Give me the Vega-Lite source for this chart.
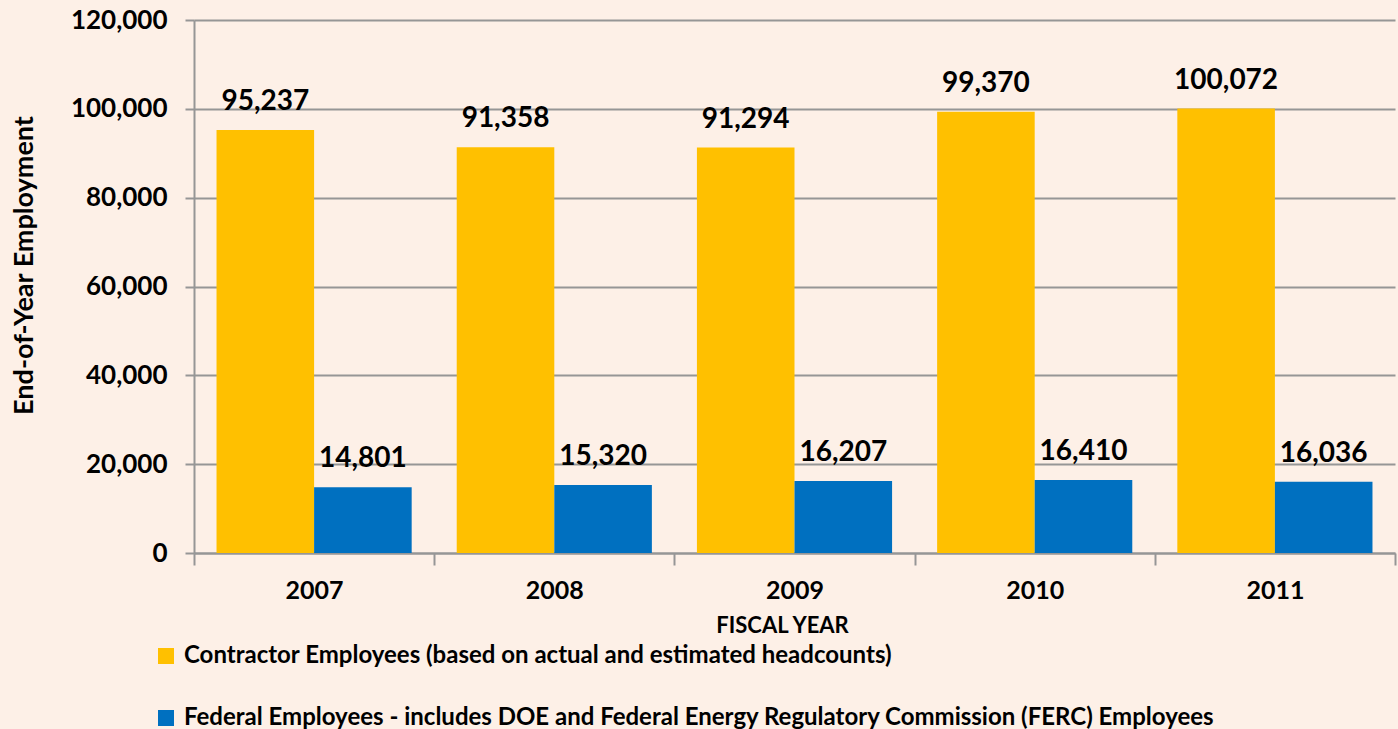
{
  "$schema": "https://vega.github.io/schema/vega-lite/v6.json",
  "autosize": {"type": "none"},
  "width": 1201,
  "height": 533,
  "padding": {"left": 194, "top": 20, "right": 3, "bottom": 176},
  "background": "#FDF0E7",
  "config": {
    "view": {"stroke": null},
    "font": "Lato",
    "axis": {"labelFont": "Lato", "titleFont": "Lato", "labelColor": "#000", "titleColor": "#000"}
  },
  "data": {
    "values": [
      {"year": "2007", "type": "Contractor Employees (based on actual and estimated headcounts)", "value": 95237},
      {"year": "2007", "type": "Federal Employees - includes DOE and Federal Energy Regulatory Commission (FERC) Employees", "value": 14801},
      {"year": "2008", "type": "Contractor Employees (based on actual and estimated headcounts)", "value": 91358},
      {"year": "2008", "type": "Federal Employees - includes DOE and Federal Energy Regulatory Commission (FERC) Employees", "value": 15320},
      {"year": "2009", "type": "Contractor Employees (based on actual and estimated headcounts)", "value": 91294},
      {"year": "2009", "type": "Federal Employees - includes DOE and Federal Energy Regulatory Commission (FERC) Employees", "value": 16207},
      {"year": "2010", "type": "Contractor Employees (based on actual and estimated headcounts)", "value": 99370},
      {"year": "2010", "type": "Federal Employees - includes DOE and Federal Energy Regulatory Commission (FERC) Employees", "value": 16410},
      {"year": "2011", "type": "Contractor Employees (based on actual and estimated headcounts)", "value": 100072},
      {"year": "2011", "type": "Federal Employees - includes DOE and Federal Energy Regulatory Commission (FERC) Employees", "value": 16036}
    ]
  },
  "encoding": {
    "x": {
      "field": "year", "type": "nominal",
      "scale": {"paddingInner": 0, "paddingOuter": 0},
      "axis": {
        "title": "FISCAL YEAR", "titleFontSize": 22, "titleFontWeight": "bold",
        "titleX": 588, "titleY": 62,
        "labelAngle": 0, "labelFontSize": 25, "labelFontWeight": "bold", "labelPadding": 13,
        "tickBand": "extent", "tickSize": 12, "tickColor": "#969696", "tickWidth": 2,
        "domainColor": "#969696", "domainWidth": 2, "grid": false
      }
    },
    "xOffset": {
      "field": "type", "type": "nominal",
      "scale": {"domain": ["Contractor Employees (based on actual and estimated headcounts)", "Federal Employees - includes DOE and Federal Energy Regulatory Commission (FERC) Employees"], "paddingInner": 0, "paddingOuter": 0.2308}
    },
    "y": {
      "field": "value", "type": "quantitative",
      "scale": {"domain": [0, 120000]},
      "axis": {
        "title": "End-of-Year Employment", "titleFontSize": 27, "titleFontWeight": "bold",
        "titleX": -170, "titleY": 245, "titleAngle": -90, "titleBaseline": "middle", "titleAlign": "center",
        "values": [0, 20000, 40000, 60000, 80000, 100000, 120000], "format": ",d",
        "labelFontSize": 26, "labelFontWeight": "bold", "labelPadding": 18,
        "tickSize": 9, "tickColor": "#969696", "tickWidth": 2,
        "domainColor": "#969696", "domainWidth": 2,
        "grid": true, "gridColor": "#969696", "gridWidth": 2
      }
    }
  },
  "layer": [
    {
      "mark": {"type": "bar"},
      "encoding": {
        "color": {
          "field": "type", "type": "nominal",
          "scale": {"domain": ["Contractor Employees (based on actual and estimated headcounts)", "Federal Employees - includes DOE and Federal Energy Regulatory Commission (FERC) Employees"], "range": ["#FFC000", "#0070C0"]},
          "legend": {
            "title": null, "orient": "none", "legendX": -40, "legendY": 624,
            "direction": "vertical", "symbolType": "square", "symbolSize": 256,
            "symbolStrokeWidth": 0, "labelFontSize": 24, "labelFontWeight": "bold",
            "labelFont": "Lato", "labelColor": "#000", "labelLimit": 1300, "rowPadding": 38, "labelOffset": 6
          }
        }
      }
    },
    {
      "mark": {"type": "text", "dy": -20, "baseline": "alphabetic", "fontSize": 28, "fontWeight": "bold", "font": "Lato", "color": "#000"},
      "encoding": {
        "text": {"field": "value", "type": "quantitative", "format": ",d"}
      }
    }
  ]
}
